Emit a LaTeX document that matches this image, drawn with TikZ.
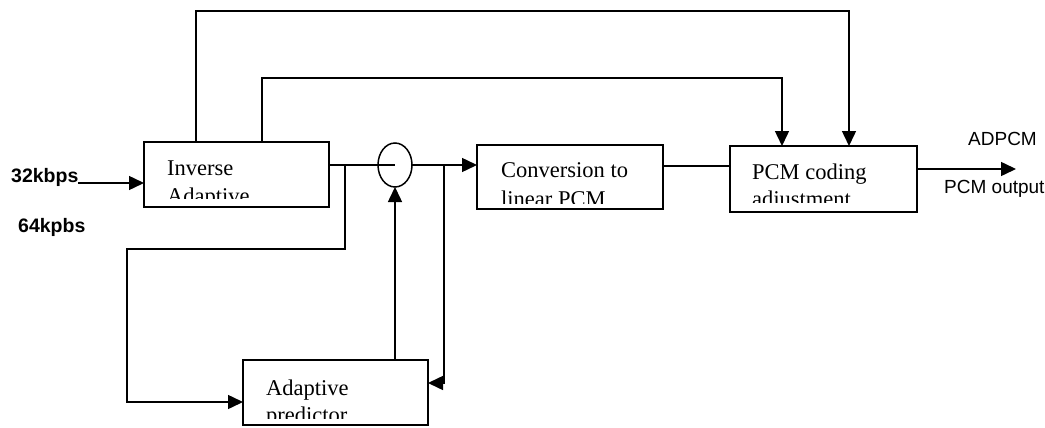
\documentclass[tikz,border=0pt]{standalone}
\usepackage{fontspec}
\setmainfont{Liberation Serif}
\newfontfamily\labelsans{Liberation Sans}
\usetikzlibrary{arrows.meta,shapes.geometric}
\tikzset{
  blk/.style={draw, rectangle, line width=1.5pt, inner sep=0pt, outer sep=0pt},
  wire/.style={line width=1.5pt},
  arr/.style={line width=1.5pt, -{Triangle[length=15pt,width=14pt]}},
  boxtxt/.style={inner sep=0pt, anchor=base west, font=\fontsize{22.5}{27}\selectfont},
  sanstxt/.style={inner sep=0pt, anchor=base west, font=\labelsans\fontsize{19}{22}\selectfont},
  boldtxt/.style={inner sep=0pt, anchor=base west, font=\labelsans\bfseries\fontsize{19.5}{22}\selectfont},
}
\begin{document}
\begin{tikzpicture}[x=1pt,y=-1pt]
\useasboundingbox (0,0) rectangle (1045,428);
% boxes
\node[blk, minimum width=185pt, minimum height=65pt] (inv)  at (236.5,174.5) {};
\node[blk, minimum width=186pt, minimum height=64pt] (conv) at (570,177) {};
\node[blk, minimum width=187pt, minimum height=66pt] (pcm)  at (823.5,179) {};
\node[blk, minimum width=185pt, minimum height=65pt] (pred) at (335.5,392.5) {};
\node[draw, ellipse, line width=1.5pt, minimum width=34pt, minimum height=44pt, inner sep=0pt, outer sep=0pt] (sum) at (395,165) {};
% box texts
\node[boxtxt] (invA) at (167,175) {Inverse};
\node[boxtxt] (convA) at (501,177) {Conversion to};
\node[boxtxt] (pcmA) at (752,179) {PCM coding};
\node[boxtxt] (predA) at (266,395) {Adaptive};
\begin{scope}
  \clip (inv.north west) rectangle (329,198);
  \node[boxtxt] (invB) at (167,203) {Adaptive};
\end{scope}
\begin{scope}
  \clip (conv.north west) rectangle (663,203);
  \node[boxtxt] (convB) at (501,206) {linear PCM};
\end{scope}
\begin{scope}
  \clip (pcm.north west) rectangle (917,202);
  \node[boxtxt] (pcmB) at (752,206) {adjustment};
\end{scope}
\begin{scope}
  \clip (pred.north west) rectangle (428,418);
  \node[boxtxt] (predB) at (266,422) {predictor};
\end{scope}
% outside labels
\node[boldtxt] (l32) at (11,182) {32kbps};
\node[boldtxt] (l64) at (18,232) {64kpbs};
\node[sanstxt] (ladp) at (968,145) {ADPCM};
\node[sanstxt] (lpcm) at (944,193) {PCM output};
% coordinates
\coordinate (in) at (78,183);
\coordinate (out) at (1016,169);
\coordinate (j1) at (345,165);
\coordinate (lt) at (127,249);
\coordinate (lb) at (127,402);
\coordinate (j2) at (444,165);
\coordinate (rb) at (444,383);
\coordinate (t1) at (196,11);
\coordinate (t2) at (849,11);
\coordinate (u1) at (262,78);
\coordinate (u2) at (782,78);
% connectors
\draw[arr] (in) -- (in -| inv.west);
\draw[wire] (inv.east |- sum) -- (sum.center);
\draw[arr] (sum.east) -- (conv.west |- sum.east);
\draw[wire] (conv.east |- 0,166) -- (pcm.west |- 0,166);
\draw[arr] (pcm.east |- out) -- (out);
\draw[arr] (j1) |- (lt) -- (lb) -- (lb -| pred.west);
\draw[arr] (j2) -- (rb) -- (rb -| pred.east);
\draw[arr] (sum.south |- pred.north) -- (sum.south);
\draw[arr] (t1 |- inv.north) -- (t1) -- (t2) -- (t2 |- pcm.north);
\draw[arr] (u1 |- inv.north) -- (u1) -- (u2) -- (u2 |- pcm.north);
\end{tikzpicture}
\end{document}
